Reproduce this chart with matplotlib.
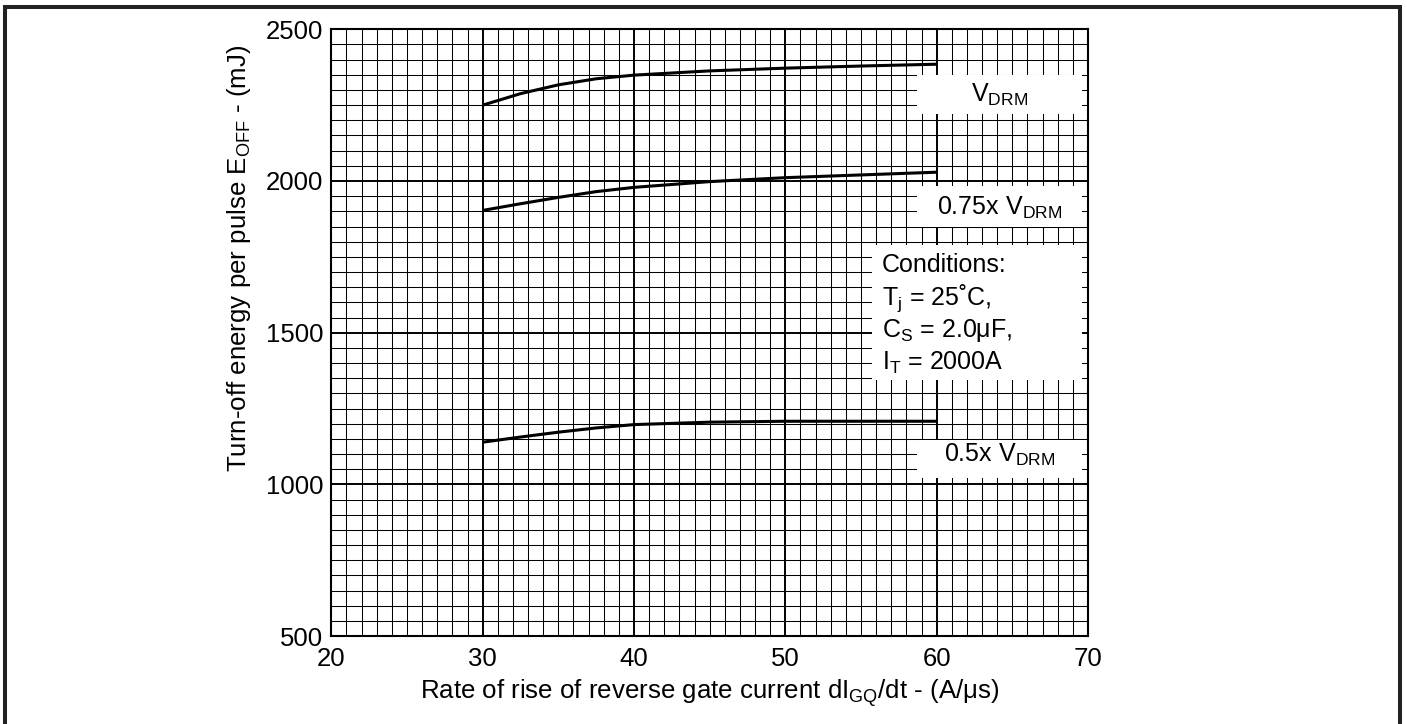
"""
Turn-off energy per pulse vs rate of rise of reverse gate current,
for three anode voltages, drawn on a fine graph-paper grid.
"""

import matplotlib
matplotlib.use("Agg")
import matplotlib.pyplot as plt
from matplotlib.patches import Rectangle
from matplotlib.ticker import MultipleLocator

plt.rcParams["font.family"] = ["Liberation Sans", "DejaVu Sans"]
plt.rcParams["mathtext.fontset"] = "custom"
plt.rcParams["mathtext.rm"] = "Liberation Sans"

# dI_GQ/dt (A/us)
didt = [30, 32.5, 35, 37.5, 40, 45, 50, 55, 60]
# E_OFF (mJ)
e_vdrm = [2250, 2288, 2317, 2337, 2349, 2363, 2372, 2379, 2385]
e_075 = [1903, 1925, 1946, 1965, 1979, 1998, 2011, 2020, 2029]
e_050 = [1139, 1156, 1172, 1186, 1197, 1205, 1208, 1208, 1208]

# white label boxes: (x0, x1, y0, y1) in data units
box_vdrm = (58.7, 69.6, 2220, 2350)
box_075 = (58.7, 69.6, 1850, 1985)
box_cond = (55.7, 69.6, 1345, 1790)
box_050 = (58.7, 69.6, 1020, 1145)
cond_lines = ["Conditions:",
              r"T$_\mathregular{j}$ = 25˚C,",
              r"C$_\mathregular{S}$ = 2.0μF,",
              r"I$_\mathregular{T}$ = 2000A"]

fig = plt.figure(figsize=(14.07, 7.24), dpi=100)
ax = fig.add_axes([0.2355, 0.1215, 0.5378, 0.838])

ax.set_xlim(20, 70)
ax.set_ylim(500, 2500)
ax.xaxis.set_major_locator(MultipleLocator(10))
ax.xaxis.set_minor_locator(MultipleLocator(1))
ax.yaxis.set_major_locator(MultipleLocator(500))
ax.yaxis.set_minor_locator(MultipleLocator(50))
ax.grid(which="major", color="black", lw=1.4, zorder=1)
ax.grid(which="minor", color="black", lw=0.75, zorder=1)
ax.set_axisbelow(True)
ax.tick_params(which="both", length=0, labelsize=18.5)
ax.tick_params(axis="x", pad=8)
ax.tick_params(axis="y", pad=6)
for sp in ax.spines.values():
    sp.set_linewidth(1.5)

for x0, x1, y0, y1 in (box_vdrm, box_075, box_cond, box_050):
    ax.add_patch(Rectangle((x0, y0), x1 - x0, y1 - y0, facecolor="white",
                           edgecolor="none", zorder=2))

for e in (e_vdrm, e_075, e_050):
    ax.plot(didt, e, color="black", lw=2.2, zorder=3, solid_capstyle="butt")

def box_text(box, s, y):
    x0, x1 = box[0], box[1]
    ax.text(0.5 * (x0 + x1), y, s, ha="center", va="baseline",
            fontsize=18, zorder=4)

box_text(box_vdrm, r"V$_\mathregular{DRM}$", 2261)
box_text(box_075, r"0.75x V$_\mathregular{DRM}$", 1888)
box_text(box_050, r"0.5x V$_\mathregular{DRM}$", 1075)

for k, s in enumerate(cond_lines):
    ax.text(56.37, 1701 - k * 108, s, ha="left", va="baseline",
            fontsize=18, zorder=4)

ax.set_xlabel(r"Rate of rise of reverse gate current dI$_\mathregular{GQ}$/dt - (A/μs)",
              fontsize=18.6)
ax.xaxis.set_label_coords(0.5, -0.0676)
ax.set_ylabel(r"Turn-off energy per pulse E$_\mathregular{OFF}$ - (mJ)", fontsize=18.6)
ax.yaxis.set_label_coords(-0.104, 0.623)

# outer frame of the figure (bottom edge falls outside the picture)
fig.patches.append(Rectangle((0.0032, -0.05), 0.9918, 1.0403,
                             transform=fig.transFigure, fill=False,
                             edgecolor="#222222", lw=2.9))

fig.savefig("out.png", dpi=100)
